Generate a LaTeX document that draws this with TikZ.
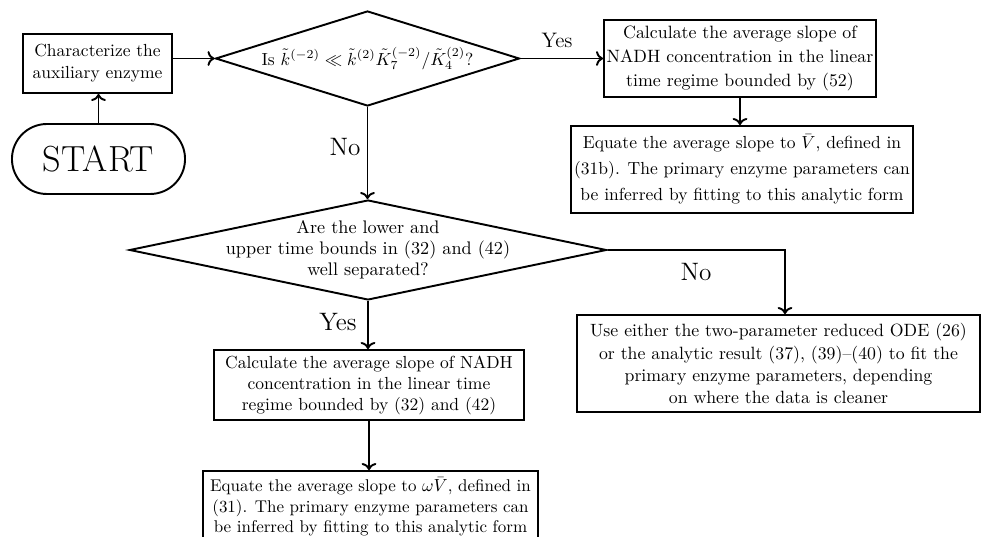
\documentclass[tikz,border=0pt]{standalone}
\usepackage{amsmath}
\usetikzlibrary{shapes.geometric,shapes.misc,arrows.meta}
\begin{document}
\begin{tikzpicture}[x=0.5714pt,y=-0.5714pt,
  box/.style={draw,line width=1.1pt,rectangle,align=center,inner sep=0pt},
  dia/.style={draw,line width=1.1pt,diamond,inner sep=0pt},
  diatext/.style={inner sep=0pt,align=center},
  lbl/.style={inner sep=0pt,font=\Large},
  arr/.style={-{To[scale=1.0]},line width=1.1pt}]
\useasboundingbox (0,0) rectangle (987,537);
\node[box,minimum width=85.1pt,minimum height=33.7pt,font=\fontsize{10}{12.6}\selectfont] (char) at (97.5,63.5) {Characterize the\\auxiliary enzyme};
\node[draw,line width=1.1pt,rounded rectangle,minimum width=98.9pt,minimum height=40pt,inner sep=0pt,font=\huge] (start) at (98.5,159) {START};
\node[dia,minimum width=173.7pt,minimum height=54.3pt] (d1) at (367.5,58.5) {};
\node[diatext,font=\fontsize{10}{12}\selectfont] (d1t) at (d1.center) {Is $\tilde{k}^{(-2)} \ll \tilde{k}^{(2)}\tilde{K}_7^{(-2)}/\tilde{K}_4^{(2)}$?};
\node[box,minimum width=155.4pt,minimum height=44pt,font=\fontsize{10.2}{13.7}\selectfont] (b1) at (740,58.5) {Calculate the average slope of\\NADH concentration in the linear\\time regime bounded by (52)};
\node[box,minimum width=195.4pt,minimum height=49.7pt,font=\fontsize{10}{14.9}\selectfont] (b2) at (742,169.5) {Equate the average slope to $\bar{V}$, defined in\\(31b). The primary enzyme parameters can\\be inferred by fitting to this analytic form};
\node[dia,minimum width=272.6pt,minimum height=57.1pt] (d2) at (368,250) {};
\node[diatext,font=\fontsize{10.4}{12}\selectfont] (d2t) at (d2.center) {Are the lower and\\upper time bounds in (32) and (42)\\well separated?};
\node[box,minimum width=177.1pt,minimum height=40pt,font=\fontsize{10}{12}\selectfont] (b3) at (369,385) {Calculate the average slope of NADH\\concentration in the linear time\\regime bounded by (32) and (42)};
\node[box,minimum width=230.3pt,minimum height=55.4pt,font=\fontsize{10.15}{12.6}\selectfont] (b4) at (778.5,363.5) {Use either the two-parameter reduced ODE (26)\\or the analytic result (37), (39)--(40) to fit the\\primary enzyme parameters, depending\\on where the data is cleaner};
\node[box,minimum width=191.4pt,minimum height=41.1pt,font=\fontsize{9.7}{11.7}\selectfont] (b5) at (370.5,507) {Equate the average slope to $\omega\bar{V}$, defined in\\(31). The primary enzyme parameters can\\be inferred by fitting to this analytic form};
\node[lbl,font=\large] (yes1) at (557,40) {Yes};
\node[lbl] (no1) at (345,147) {No};
\node[lbl] (no2) at (696,272) {No};
\node[lbl] (yes2) at (338,322) {Yes};
\coordinate (c4) at (785,250);
\draw[arr] (start.north) -- (start.north |- char.south);
\draw[arr] (char.east |- d1.west) -- (d1.west);
\draw[arr] (d1.east) -- (b1.west |- d1.east);
\draw[arr] (b1.south) -- (b1.south |- b2.north);
\draw[arr] (d1.south) -- (d1.south |- d2.north);
\draw[arr] (d2.east) -- (c4) -- (c4 |- b4.north);
\draw[arr] (d2.south) -- (d2.south |- b3.north);
\draw[arr] (b3.south) -- (b3.south |- b5.north);
\end{tikzpicture}
\end{document}
